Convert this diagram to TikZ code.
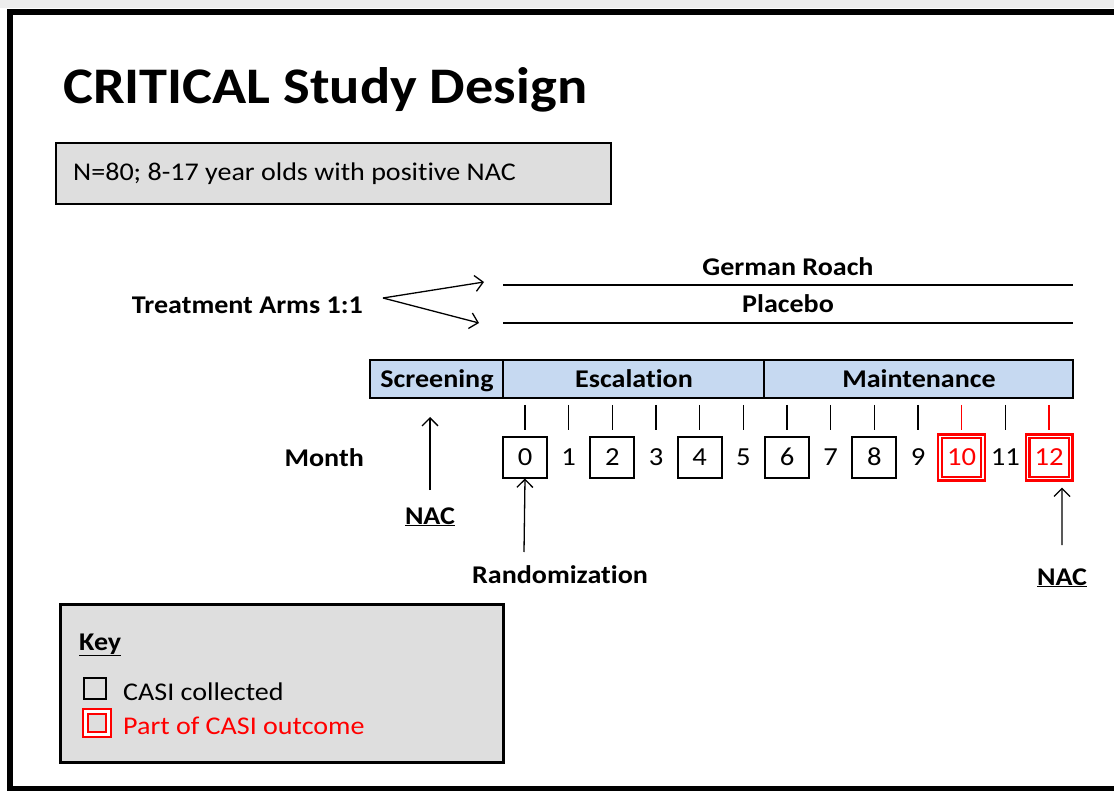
\documentclass[tikz,border=0pt]{standalone}
\usepackage{fontspec}
\setmainfont{Carlito}[FakeStretch=1.1, Ligatures=NoCommon]
\usetikzlibrary{arrows.meta,calc}
\definecolor{boxgrey}{HTML}{DEDEDE}
\definecolor{phaseblue}{HTML}{C6D9F1}
\definecolor{outred}{HTML}{FF0000}
\definecolor{stripgrey}{HTML}{EDEDED}

\begin{document}
\begin{tikzpicture}[x=1pt,y=-1pt,
  txt/.style={inner sep=0pt, font=\fontsize{25.5}{30}\selectfont},
  boldtxt/.style={inner sep=0pt, font=\fontsize{25.5}{30}\selectfont\bfseries},
  panel/.style={draw, fill=boxgrey, line width=2.2pt},
  monthnum/.style={inner sep=0pt, minimum width=44pt, minimum height=40pt,
    text height=16pt, text depth=0pt, font=\fontsize{26}{30}\selectfont},
  casibox/.style={monthnum, draw, line width=2pt},
  outbox/.style={monthnum, draw=outred, text=outred, double=white,
    double distance=1.6pt, line width=2.2pt, minimum width=43pt, minimum height=42pt},
  tick/.style={line width=1.3pt},
  armarrow/.style={line width=1.3pt, -{Straight Barb[length=8pt,width=16pt]}},
  uparrow/.style={line width=1.3pt, -{Straight Barb[length=8pt,width=16pt]}},
]
\useasboundingbox (0,0) rectangle (1114,791);
\fill[stripgrey] (0,0) rectangle (1114,8);
% outer frame
\draw[line width=6pt] (10,12) rectangle (1125,789);

% title and population
\node[inner sep=0pt, anchor=base west, font=\fontsize{51.3}{58}\selectfont\bfseries]
  (title) at (63,104) {CRITICAL Study Design};
\draw[panel] (56,143) rectangle (611,204);
\node[txt, anchor=base west] (pop) at (73,181) {N=80; 8-17 year olds with positive NAC};

% treatment arms
\node[boldtxt, anchor=base east] (arms) at (363,314) {Treatment Arms 1:1};
\coordinate (split) at (383,298);
\coordinate (armtopL) at (503,285);
\coordinate (armtopR) at (1073,285);
\coordinate (armbotL) at (503,323);
\coordinate (armbotR) at (1073,323);
\draw[line width=2pt] (armtopL) -- (armtopR);
\draw[line width=2pt] (armbotL) -- (armbotR);
\node[boldtxt, anchor=base] (roach) at (788,276) {German Roach};
\node[boldtxt, anchor=base] (placebo) at (788,313) {Placebo};
\coordinate (tipA) at (484,282);
\coordinate (tipB) at (479,323);
\draw[armarrow] (split) -- (tipA);
\draw[armarrow] (split) -- (tipB);

% study phases
\draw[fill=phaseblue, line width=2.4pt] (370,360) rectangle (1073,398);
\draw[line width=2.4pt] (503,360) -- (503,398);
\draw[line width=2.4pt] (764,360) -- (764,398);
\node[boldtxt, anchor=base] (screen) at (437,388) {Screening};
\node[boldtxt, anchor=base] (escal) at (634,388) {Escalation};
\node[boldtxt, anchor=base] (maint) at (919,388) {Maintenance};

% month axis
\node[boldtxt, anchor=base east] (month) at (364,467) {Month};
\foreach \m in {0,...,12} {
  \pgfmathsetmacro{\xx}{525+43.67*\m}
  \coordinate (t\m) at (\xx,405);
  \coordinate (b\m) at (\xx,430);
}
\foreach \m in {0,...,9,11} \draw[tick] (t\m) -- (b\m);
\foreach \m in {10,12} \draw[tick, outred] (t\m) -- (b\m);

\foreach \m in {0,2,4,6,8} \node[casibox] (m\m) at ($(b\m)+(0,27.5)$) {\m};
\foreach \m in {1,3,5,7,9,11} \node[monthnum] (m\m) at ($(b\m)+(0,27.5)$) {\m};
\foreach \m in {10,12} \node[outbox] (m\m) at ($(b\m)+(0,27.5)$) {\m};

% events
\node[boldtxt, anchor=base] (nac1) at (430,524) {\underline{NAC}};
\coordinate (nac1tip) at (430,417);
\coordinate (nac1tail) at (430,490);
\draw[uparrow] (nac1tail) -- (nac1tip);
\node[boldtxt, anchor=base] (rand) at (560,583) {Randomization};
\coordinate (randtail) at (524,552);
\draw[uparrow] (randtail) -- (m0.south);
\node[boldtxt, anchor=base] (nac2) at (1062,585) {\underline{NAC}};
\coordinate (nac2tail) at (1062,545);
\draw[uparrow] (nac2tail) -- ($(m12.south)+(13,8)$);

% key
\draw[panel, line width=3pt] (60,604) rectangle (503,762);
\node[boldtxt, anchor=base west] (keyhead) at (79,650) {\underline{Key}};
\node[draw, line width=2pt, minimum width=22pt, minimum height=21pt, inner sep=0pt]
  (keyblack) at (95,688) {};
\node[txt, anchor=base west] (keyblacktxt) at (123,700) {CASI collected};
\node[draw=outred, double=white, double distance=3.2pt, line width=1.5pt,
  minimum width=23pt, minimum height=23pt, inner sep=0pt] (keyred) at (97,723) {};
\node[txt, anchor=base west, text=outred] (keyredtxt) at (123,734) {Part of CASI outcome};
\end{tikzpicture}
\end{document}
